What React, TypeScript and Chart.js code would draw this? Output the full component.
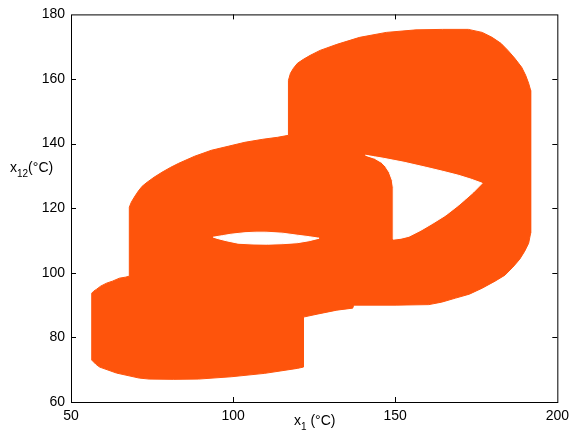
import React, { useEffect, useRef } from 'react';
import { Chart, registerables } from 'chart.js';

Chart.register(...registerables);

// Axis ranges / ticks
const xTickValues = [50, 100, 150, 200];
const yTickValues = [60, 80, 100, 120, 140, 160, 180];

// Outer outline of the swept (orange) region, x1 (°C) / x12 (°C)
const outlineX = [56.4, 56.4, 57.01, 57.93, 59.15, 60.98, 62.8, 64.94, 66.77, 67.99, 67.99, 68.6, 69.51, 70.73, 71.95, 73.48, 75.61, 78.05, 80.79, 83.23, 88.11, 93.29, 98.48, 103.66, 109.15, 113.72, 117.07, 117.07, 117.68, 118.6, 119.82, 121.65, 123.78, 126.83, 132.01, 139.02, 147.26, 156.4, 164.63, 172.56, 176.83, 179.88, 182.62, 184.76, 186.89, 189.02, 190.24, 191.16, 191.77, 191.77, 191.16, 189.94, 188.41, 186.28, 183.84, 180.79, 176.83, 172.87, 168.6, 164.33, 160.37, 150.3, 137.2, 136.89, 132.01, 125.91, 121.65, 121.65, 119.82, 109.76, 99.39, 89.33, 81.71, 74.09, 71.04, 64.02, 58.84, 57.62];
const outlineY = [72.98, 93.7, 94.32, 94.94, 95.87, 96.8, 97.42, 98.34, 98.65, 98.96, 120.3, 121.85, 123.4, 125.25, 126.8, 128.04, 129.58, 131.13, 132.68, 133.91, 136.08, 137.93, 139.17, 140.41, 141.34, 141.95, 142.57, 159.59, 161.75, 163.3, 164.84, 166.08, 167.32, 168.86, 170.72, 172.89, 174.43, 175.21, 175.36, 175.36, 174.43, 172.89, 171.03, 168.86, 166.39, 163.61, 161.13, 158.66, 156.49, 112.26, 109.17, 106.69, 104.22, 101.74, 99.27, 97.41, 95.25, 93.39, 92.16, 90.92, 90.15, 89.99, 89.99, 89.06, 88.44, 87.2, 86.28, 70.81, 70.41, 68.87, 67.81, 67.1, 67.01, 67.1, 67.41, 68.96, 70.81, 71.74];

// Inner uncovered region of the middle band
const holeAX = [93.9, 96.65, 99.39, 103.66, 107.01, 110.06, 115.24, 119.82, 123.48, 126.52, 123.48, 119.82, 115.24, 110.67, 106.1, 101.52, 97.87, 95.43];
const holeAY = [111.03, 111.49, 111.95, 112.41, 112.57, 112.57, 112.26, 111.64, 111.18, 110.71, 109.94, 109.32, 109.01, 108.86, 108.92, 109.17, 109.94, 110.56];

// Inner uncovered region of the upper band
const holeBX = [140.85, 143.6, 146.34, 152.74, 159.45, 164.63, 169.51, 173.48, 176.83, 174.09, 171.65, 169.51, 165.55, 161.59, 157.93, 154.27, 151.83, 149.39, 149.39, 149.09, 148.17, 146.95, 145.73, 143.6];
const holeBY = [136.39, 135.92, 135.46, 134.22, 132.68, 131.44, 130.2, 128.96, 127.73, 124.94, 122.78, 120.92, 117.83, 115.35, 113.19, 111.33, 110.72, 110.41, 126.49, 128.65, 131.13, 132.98, 134.22, 135.46];

const ORANGE = 'rgb(254, 84, 12)';
const FONT = '"Liberation Sans", Arial, sans-serif';

function toPoints(xs: number[], ys: number[]) {
  const pts = xs.map((x, i) => ({ x, y: ys[i] }));
  pts.push({ x: xs[0], y: ys[0] });
  return pts;
}

const framePlugin = {
  id: 'frameAndTitles',
  afterDraw(chart: any) {
    const { ctx, chartArea: a, scales } = chart;
    const xs = scales.x;
    const ys = scales.y;
    ctx.save();
    ctx.strokeStyle = '#000';
    ctx.lineWidth = 1;
    ctx.strokeRect(a.left + 0.5, a.top + 0.5, a.right - a.left, a.bottom - a.top);
    const tl = 5;
    ctx.beginPath();
    xTickValues.forEach((v) => {
      if (v === xs.min || v === xs.max) return;
      const p = Math.round(xs.getPixelForValue(v)) + 0.5;
      ctx.moveTo(p, a.bottom);
      ctx.lineTo(p, a.bottom - tl);
      ctx.moveTo(p, a.top);
      ctx.lineTo(p, a.top + tl);
    });
    yTickValues.forEach((v) => {
      if (v === ys.min || v === ys.max) return;
      const p = Math.round(ys.getPixelForValue(v)) + 0.5;
      ctx.moveTo(a.left, p);
      ctx.lineTo(a.left + tl, p);
      ctx.moveTo(a.right, p);
      ctx.lineTo(a.right - tl, p);
    });
    ctx.stroke();

    ctx.fillStyle = '#000';
    ctx.textBaseline = 'alphabetic';
    ctx.textAlign = 'left';
    const big = '14px ' + FONT;
    const small = '10px ' + FONT;

    // y label: x12(°C)
    let x = 10;
    const yb = 172;
    ctx.font = big;
    ctx.fillText('x', x, yb);
    x += ctx.measureText('x').width;
    ctx.font = small;
    ctx.fillText('12', x, yb + 5);
    x += ctx.measureText('12').width;
    ctx.font = big;
    ctx.fillText('(°C)', x, yb);

    // x label: x1 (°C)
    x = 294;
    const xb = 425;
    ctx.font = big;
    ctx.fillText('x', x, xb);
    x += ctx.measureText('x').width;
    ctx.font = small;
    ctx.fillText('1', x, xb + 5);
    x += ctx.measureText('1').width;
    ctx.font = big;
    ctx.fillText(' (°C)', x, xb);
    ctx.restore();
  },
};

export default function App() {
  const ref = useRef<HTMLCanvasElement | null>(null);

  useEffect(() => {
    if (!ref.current) return;
    const shape = (label: string, xs: number[], ys: number[], color: string, order: number) =>
      ({
        label,
        data: toPoints(xs, ys),
        showLine: true,
        fill: 'shape',
        backgroundColor: color,
        borderColor: color,
        borderWidth: 1,
        pointRadius: 0,
        order,
      } as any);
    const chart = new Chart(ref.current, {
      type: 'scatter',
      data: {
        datasets: [
          shape('region', outlineX, outlineY, ORANGE, 2),
          shape('holeA', holeAX, holeAY, '#ffffff', 1),
          shape('holeB', holeBX, holeBY, '#ffffff', 1),
        ],
      },
      options: {
        animation: false,
        responsive: false,
        devicePixelRatio: 1,
        layout: { padding: { top: 14, right: 11, left: 0, bottom: 0 } },
        plugins: { legend: { display: false }, tooltip: { enabled: false } },
        scales: {
          x: {
            type: 'linear',
            min: 50,
            max: 200,
            afterBuildTicks: (s: any) => {
              s.ticks = xTickValues.map((v) => ({ value: v }));
            },
            afterFit: (s: any) => {
              s.height = 32;
            },
            grid: { display: false, drawTicks: false },
            border: { display: false },
            ticks: { color: '#000', padding: 6, font: { family: FONT, size: 14 }, maxRotation: 0 },
          },
          y: {
            type: 'linear',
            min: 60,
            max: 180,
            afterBuildTicks: (s: any) => {
              s.ticks = yTickValues.map((v) => ({ value: v }));
            },
            afterFit: (s: any) => {
              s.width = 71;
            },
            grid: { display: false, drawTicks: false },
            border: { display: false },
            ticks: { color: '#000', padding: 6, font: { family: FONT, size: 14 } },
          },
        },
      },
      plugins: [framePlugin],
    });
    return () => chart.destroy();
  }, []);

  return (
    <div style={{ position: 'fixed', left: 0, top: 0, width: 575, height: 434, background: '#fff' }}>
      <canvas ref={ref} width={575} height={434} style={{ width: 575, height: 434, display: 'block' }} />
    </div>
  );
}
